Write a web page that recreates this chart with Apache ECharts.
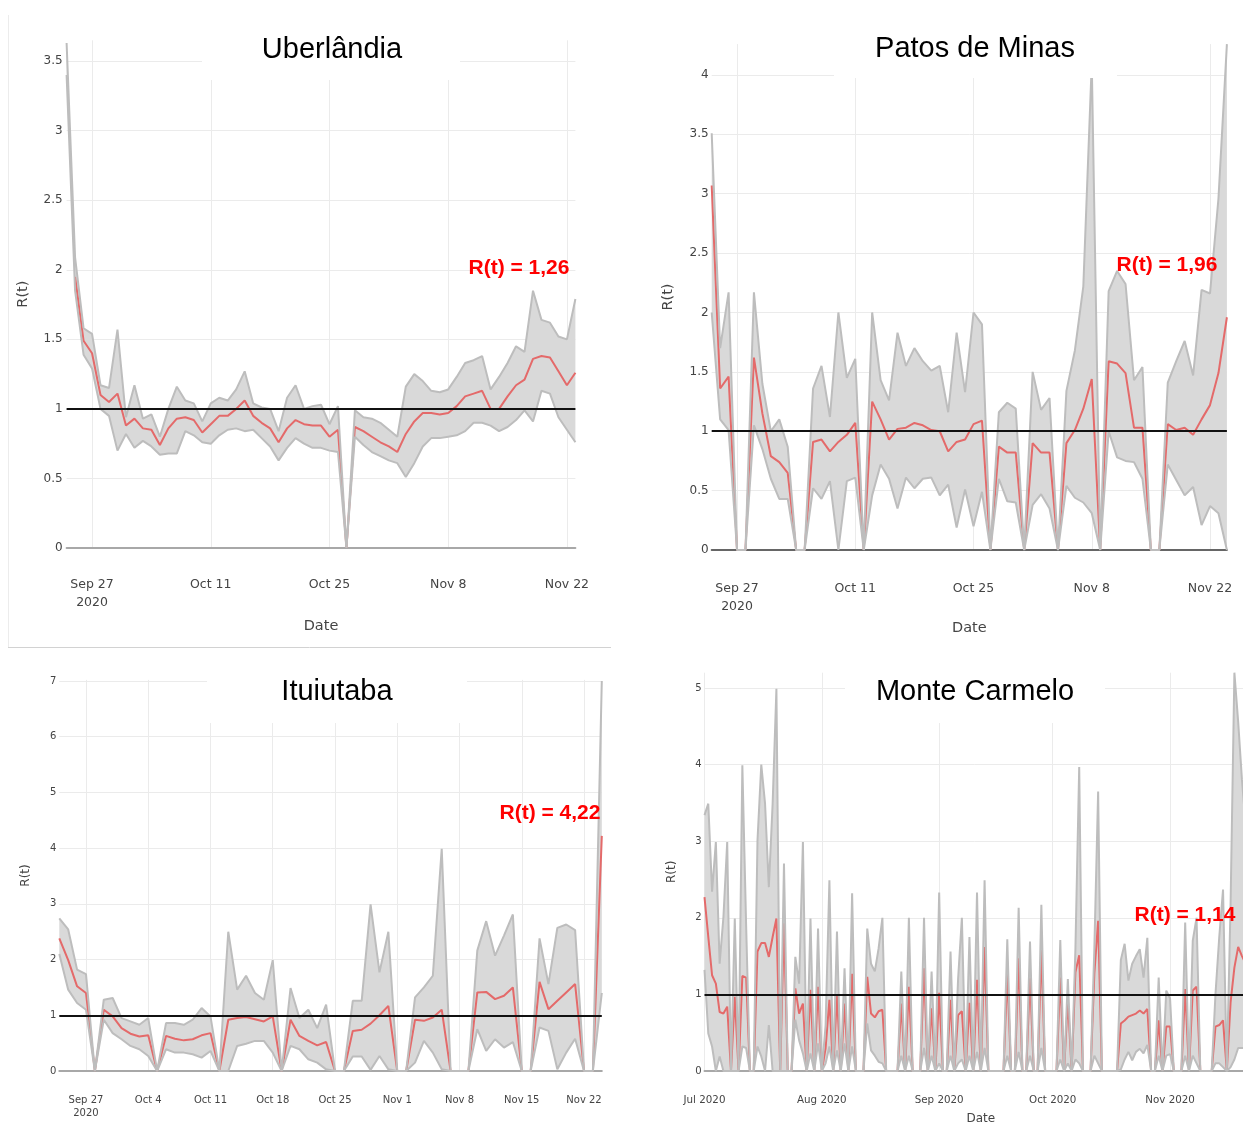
<!DOCTYPE html>
<html>
<head>
<meta charset="utf-8">
<script src="https://cdn.jsdelivr.net/npm/echarts@6/dist/echarts.min.js"></script>
<style>
  html, body { margin: 0; padding: 0; background: #fff; }
  #chart { width: 1243px; height: 1124px; }
</style>
</head>
<body>
<div id="chart"></div>
<script>
// ---------- Uberlândia: daily R(t), 24 Sep – 23 Nov 2020 ----------
const uberStart = '2020-09-24';
const uberMean = [null, 1.95, 1.49, 1.40, 1.10, 1.05, 1.11, 0.88, 0.93, 0.86, 0.85, 0.74, 0.86, 0.93, 0.94, 0.92,
  0.83, 0.89, 0.95, 0.95, 1.00, 1.06, 0.95, 0.90, 0.86, 0.76, 0.86, 0.92, 0.89, 0.88, 0.88, 0.80, 0.85, 0,
  0.87, 0.84, 0.80, 0.76, 0.73, 0.69, 0.82, 0.91, 0.97, 0.97, 0.96, 0.97, 1.02, 1.09, 1.11, 1.13, 1.00,
  1.00, 1.09, 1.17, 1.21, 1.36, 1.38, 1.37, 1.27, 1.17, 1.26];
const uberLower = [3.4, 1.85, 1.39, 1.29, 1.00, 0.95, 0.70, 0.82, 0.72, 0.77, 0.73, 0.67, 0.68, 0.68, 0.84, 0.81,
  0.76, 0.75, 0.81, 0.85, 0.86, 0.84, 0.85, 0.79, 0.73, 0.63, 0.72, 0.79, 0.75, 0.72, 0.72, 0.70, 0.69, 0,
  0.80, 0.74, 0.69, 0.66, 0.63, 0.61, 0.51, 0.61, 0.73, 0.79, 0.79, 0.80, 0.81, 0.84, 0.90, 0.90, 0.88,
  0.84, 0.87, 0.92, 0.99, 0.91, 1.13, 1.11, 0.94, 0.85, 0.76];
const uberUpper = [3.63, 2.09, 1.58, 1.54, 1.17, 1.15, 1.57, 0.94, 1.17, 0.93, 0.96, 0.80, 1.00, 1.16, 1.06, 1.04,
  0.91, 1.04, 1.08, 1.06, 1.14, 1.27, 1.04, 1.01, 1.00, 0.84, 1.08, 1.17, 1.00, 1.02, 1.03, 0.89, 1.02, 0,
  0.99, 0.94, 0.93, 0.90, 0.85, 0.80, 1.16, 1.25, 1.20, 1.13, 1.12, 1.14, 1.23, 1.33, 1.35, 1.38, 1.14,
  1.23, 1.33, 1.45, 1.41, 1.85, 1.64, 1.62, 1.52, 1.50, 1.79];
const uberXTicks = ['2020-09-27', '2020-10-11', '2020-10-25', '2020-11-08', '2020-11-22'];
const uberYTicks = [0, 0.5, 1, 1.5, 2, 2.5, 3, 3.5];

// ---------- Patos de Minas: daily R(t), 24 Sep – 24 Nov 2020 ----------
const patosStart = '2020-09-24';
const patosMean = [3.07, 1.36, 1.46, 0, 0, 1.62, 1.15, 0.79, 0.74, 0.65, 0, 0, 0.91, 0.93, 0.83, 0.91,
  0.97, 1.07, 0, 1.25, 1.10, 0.93, 1.02, 1.03, 1.07, 1.05, 1.01, 1.00, 0.83, 0.91, 0.93, 1.06, 1.09, 0,
  0.87, 0.82, 0.82, 0, 0.90, 0.82, 0.82, 0, 0.90, 1.01, 1.19, 1.44, 0, 1.59, 1.57, 1.49, 1.03, 1.03,
  0, 0, 1.06, 1.01, 1.03, 0.97, 1.10, 1.22, 1.49, 1.96];
const patosLower = [2.0, 1.10, 1.01, 0, 0, 1.05, 0.85, 0.60, 0.43, 0.43, 0, 0, 0.52, 0.43, 0.58, 0,
  0.58, 0.61, 0, 0.46, 0.72, 0.60, 0.35, 0.61, 0.52, 0.60, 0.61, 0.46, 0.55, 0.19, 0.51, 0.20, 0.49, 0,
  0.60, 0.41, 0.40, 0, 0.38, 0.47, 0.35, 0, 0.54, 0.44, 0.40, 0.31, 0, 1.00, 0.78, 0.75, 0.74, 0.60,
  0, 0, 0.72, 0.59, 0.46, 0.53, 0.21, 0.37, 0.31, 0];
const patosUpper = [3.51, 1.70, 2.17, 0, 0, 2.17, 1.40, 1.00, 1.10, 0.87, 0, 0, 1.36, 1.55, 1.12, 2.00,
  1.45, 1.61, 0, 2.00, 1.43, 1.26, 1.83, 1.55, 1.70, 1.59, 1.51, 1.55, 1.16, 1.83, 1.33, 2.00, 1.90, 0,
  1.16, 1.24, 1.19, 0, 1.50, 1.18, 1.28, 0, 1.34, 1.68, 2.22, 4.10, 0, 2.18, 2.35, 2.24, 1.43, 1.54,
  0, 0, 1.41, 1.59, 1.76, 1.47, 2.19, 2.16, 2.96, 4.26];
const patosXTicks = ['2020-09-27', '2020-10-11', '2020-10-25', '2020-11-08', '2020-11-22'];
const patosYTicks = [0, 0.5, 1, 1.5, 2, 2.5, 3, 3.5, 4];

// ---------- Ituiutaba: daily R(t), 24 Sep – 24 Nov 2020 ----------
const ituiStart = '2020-09-24';
const ituiMean = [2.38, 1.99, 1.52, 1.40, 0, 1.10, 0.98, 0.77, 0.67, 0.62, 0.64, 0, 0.63, 0.58, 0.55, 0.57,
  0.64, 0.68, 0, 0.92, 0.95, 0.97, 0.93, 0.89, 0.98, 0, 0.92, 0.63, 0.54, 0.46, 0.52, 0, 0, 0.72,
  0.74, 0.85, 1.00, 1.17, 0, 0, 0.92, 0.90, 0.96, 1.10, 0, 0, 0, 1.41, 1.42, 1.29, 1.35, 1.50,
  0, 0, 1.60, 1.11, 1.26, 1.41, 1.56, 0, 0, 4.22];
const ituiLower = [2.10, 1.46, 1.22, 1.10, 0, 0.92, 0.68, 0.57, 0.45, 0.39, 0.27, 0, 0.39, 0.33, 0.33, 0.30,
  0.24, 0.36, 0, 0, 0.45, 0.49, 0.54, 0.54, 0.33, 0, 0.45, 0.39, 0.21, 0.15, 0.03, 0, 0, 0.26,
  0.26, 0.02, 0.27, 0.03, 0, 0, 0.15, 0.54, 0.33, 0.03, 0, 0, 0, 0.75, 0.36, 0.57, 0.42, 0.52,
  0, 0, 0.78, 0.72, 0.03, 0.33, 0.58, 0, 0, 1.40];
const ituiUpper = [2.74, 2.54, 1.82, 1.74, 0, 1.28, 1.31, 0.95, 0.89, 0.83, 0.95, 0, 0.86, 0.86, 0.83, 0.92,
  1.13, 0.98, 0, 2.50, 1.46, 1.71, 1.40, 1.28, 1.99, 0, 1.49, 0.95, 1.10, 0.77, 1.19, 0, 0, 1.26,
  1.26, 2.99, 1.77, 2.50, 0, 0, 1.32, 1.50, 1.71, 3.99, 0, 0, 0, 2.16, 2.69, 2.07, 2.43, 2.81,
  0, 0, 2.38, 1.56, 2.57, 2.63, 2.53, 0, 0, 7.00];
const ituiXTicks = ['2020-09-27', '2020-10-04', '2020-10-11', '2020-10-18', '2020-10-25',
  '2020-11-01', '2020-11-08', '2020-11-15', '2020-11-22'];
const ituiYTicks = [0, 1, 2, 3, 4, 5, 6, 7];

// ---------- Monte Carmelo: daily R(t), 1 Jul – 24 Nov 2020 ----------
const monteStart = '2020-07-01';
const monteMean = [
  2.27, 1.75, 1.25, 1.14, 0.77, 0.75, 0.84, 0, 0.97, 0, 1.24, 1.22, 0, 0, 1.56, 1.67, 1.67, 1.49, 1.75, 1.99,
  0, 1.93, 0, 0, 1.08, 0.75, 0.88, 0, 1.06, 0, 1.10, 0, 0.30, 0.93, 0, 0.99, 0, 0.88, 0, 1.27,
  0, 0, 0, 1.23, 0.75, 0.70, 0.78, 0.80, 0, 0, 0, 0, 0.88, 0, 1.10, 0, 0, 0, 1.34, 0,
  0.82, 0, 1.02, 0, 0, 0.93, 0, 0.73, 0.78, 0, 0.89, 0, 1.19, 0, 1.62, 0, 0, 0, 0, 0,
  1.27, 0, 0, 1.47, 0, 0, 1.21, 0, 0, 1.58, 0, 0, 0, 0, 1.22, 0, 0.94, 0, 1.29, 1.51,
  0, 0, 0, 1.27, 1.96, 0, 0, 0, 0, 0, 0.62, 0.66, 0.71, 0.73, 0.75, 0.79, 0.75, 0.81, 0, 0,
  0.66, 0, 0.58, 0.58, 0, 0, 0, 1.07, 0, 1.05, 1.10, 0, 0, 0, 0, 0.58, 0.60, 0.66, 0, 0.90,
  1.35, 1.62, 1.50, 1.40, 1.30, 1.20, 1.14];
const monteLower = [
  1.32, 0.49, 0.32, 0, 0.19, 0, 0, 0, 0, 0, 0.32, 0.30, 0, 0, 0.32, 0.19, 0, 0.60, 0, 0,
  0, 0, 0, 0, 0.67, 0.40, 0.23, 0, 0.23, 0, 0.36, 0, 0.10, 0.32, 0, 0.27, 0, 0.36, 0, 0.32,
  0, 0, 0, 0.62, 0.27, 0.20, 0.12, 0.10, 0, 0, 0, 0, 0.20, 0, 0.20, 0, 0, 0, 0.30, 0,
  0.20, 0, 0.10, 0, 0, 0.20, 0, 0.10, 0.15, 0, 0.20, 0, 0.25, 0, 0.30, 0, 0, 0, 0, 0,
  0.20, 0, 0, 0.25, 0, 0, 0.20, 0, 0, 0.30, 0, 0, 0, 0, 0.15, 0, 0.10, 0, 0.15, 0.10,
  0, 0, 0, 0.20, 0.10, 0, 0, 0, 0, 0, 0.02, 0.15, 0.25, 0.14, 0.25, 0.29, 0.23, 0.34, 0, 0,
  0.20, 0, 0.20, 0.22, 0, 0, 0, 0.20, 0, 0.20, 0.10, 0, 0, 0, 0, 0.10, 0.10, 0.05, 0, 0.05,
  0.15, 0.30, 0.30, 0.30, 0.30, 0.25, 0.25];
const monteUpper = [
  3.34, 3.49, 2.34, 2.99, 1.40, 2.01, 2.99, 0, 1.99, 0, 3.99, 1.90, 0, 0, 3.01, 4.00, 3.49, 2.40, 3.49, 4.99,
  0, 2.71, 0, 0, 1.49, 1.14, 2.99, 0, 1.99, 0, 1.86, 0, 0.60, 2.49, 0, 1.82, 0, 1.34, 0, 2.32,
  0, 0, 0, 1.86, 1.40, 1.30, 1.60, 2.00, 0, 0, 0, 0, 1.30, 0, 2.00, 0, 0, 0, 2.00, 0,
  1.30, 0, 2.33, 0, 0, 1.56, 0, 1.20, 2.00, 0, 1.75, 0, 2.33, 0, 2.49, 0, 0, 0, 0, 0,
  1.72, 0, 0, 2.13, 0, 0, 1.69, 0, 0, 2.17, 0, 0, 0, 0, 1.71, 0, 1.20, 0, 1.60, 3.97,
  0, 0, 0, 1.60, 3.65, 0, 0, 0, 0, 0, 1.45, 1.66, 1.18, 1.40, 1.50, 1.59, 1.22, 1.74, 0, 0,
  1.22, 0, 1.05, 0.95, 0, 0, 0, 1.94, 0, 1.70, 2.00, 0, 0, 0, 0, 1.00, 1.75, 2.37, 0, 2.20,
  5.20, 4.56, 3.80, 3.20, 2.80, 2.50, 2.30];
const monteXTicks = ['2020-07-01', '2020-08-01', '2020-09-01', '2020-10-01', '2020-11-01'];
const monteYTicks = [0, 1, 2, 3, 4, 5];

const MONTHS = ['Jan', 'Feb', 'Mar', 'Apr', 'May', 'Jun', 'Jul', 'Aug', 'Sep', 'Oct', 'Nov', 'Dec'];

function toStamp(s) {
  const p = s.split('-').map(Number);
  return new Date(p[0], p[1] - 1, p[2]).getTime();
}
function dayStamps(start, n) {
  const p = start.split('-').map(Number);
  const out = [];
  for (let i = 0; i < n; i++) out.push(new Date(p[0], p[1] - 1, p[2] + i).getTime());
  return out;
}

// Panel layout and styling
const panels = [
  { title: 'Uberlândia', note: 'R(t) = 1,26', start: uberStart, mean: uberMean, lower: uberLower, upper: uberUpper,
    xTicks: uberXTicks, yTicks: uberYTicks, yMax: 3.65, dayFmt: true,
    grid: { left: 66.6, top: 40.3, width: 508.8, height: 507.7 },
    titlePos: [332, 50], box: [202, 18, 258, 62], notePos: [519, 268],
    tickFont: 12.5, yFont: 12, nameFont: 14.5, labelMargin: 28, lineH: 18, yGap: 36, xGap: 71, yMargin: 4,
    zeroColor: '#a8a8a8' },
  { title: 'Patos de Minas', note: 'R(t) = 1,96', start: patosStart, mean: patosMean, lower: patosLower, upper: patosUpper,
    xTicks: patosXTicks, yTicks: patosYTicks, yMax: 4.26, dayFmt: true,
    grid: { left: 711.7, top: 44.1, width: 515.2, height: 505.9 },
    titlePos: [975, 49], box: [834, 16, 283, 62], notePos: [1167, 265],
    tickFont: 12.5, yFont: 12, nameFont: 14.5, labelMargin: 30, lineH: 18, yGap: 36, xGap: 71, yMargin: 3,
    zeroColor: '#666666' },
  { title: 'Ituiutaba', note: 'R(t) = 4,22', start: ituiStart, mean: ituiMean, lower: ituiLower, upper: ituiUpper,
    xTicks: ituiXTicks, yTicks: ituiYTicks, yMax: 7.02, dayFmt: true,
    grid: { left: 59.3, top: 679.9, width: 542.5, height: 391.1 },
    titlePos: [337, 692], box: [207, 661, 260, 62], notePos: [550, 813],
    tickFont: 10, yFont: 10, nameFont: 12, labelMargin: 23, lineH: 13, yGap: 27, xGap: 58, yMargin: 3,
    zeroColor: '#a8a8a8' },
  { title: 'Monte Carmelo', note: 'R(t) = 1,14', start: monteStart, mean: monteMean, lower: monteLower, upper: monteUpper,
    xTicks: monteXTicks, yTicks: monteYTicks, yMax: 5.2, dayFmt: false,
    grid: { left: 704.5, top: 672.7, width: 552.6, height: 398.3 },
    titlePos: [975, 692], box: [845, 661, 260, 62], notePos: [1185, 915],
    tickFont: 10.3, yFont: 10, nameFont: 12, labelMargin: 23, lineH: 13, yGap: 27, xGap: 42, yMargin: 3,
    zeroColor: '#a8a8a8' }
];

const TICK_FONT = '"DejaVu Sans", Verdana, sans-serif';
const TITLE_FONT = '"Liberation Sans", Arial, sans-serif';

const option = {
  animation: false,
  backgroundColor: '#ffffff',
  grid: [], xAxis: [], yAxis: [], series: [], graphic: []
};

panels.forEach((p, k) => {
  const t = dayStamps(p.start, p.mean.length);
  const xTickStamps = p.xTicks.map(toStamp);
  const firstTick = xTickStamps[0];

  // grids are placed exactly; labels may sit near or past the canvas edge
  option.grid.push(Object.assign({ containLabel: false, outerBoundsMode: 'none' }, p.grid));

  // dates are plotted as millisecond values on a linear axis
  option.xAxis.push({
    gridIndex: k, type: 'value', min: t[0], max: t[t.length - 1], scale: true,
    axisLine: { show: true, onZero: false, lineStyle: { color: p.zeroColor, width: 2 } },
    axisTick: { show: false, customValues: xTickStamps },
    axisLabel: {
      customValues: xTickStamps, color: '#444', fontFamily: TICK_FONT, fontSize: p.tickFont,
      margin: p.labelMargin, lineHeight: p.lineH, hideOverlap: false,
      formatter: function (v) {
        const d = new Date(v);
        if (!p.dayFmt) return MONTHS[d.getMonth()] + ' ' + d.getFullYear();
        const s = MONTHS[d.getMonth()] + ' ' + d.getDate();
        return Math.abs(v - firstTick) < 3600000 ? s + '\n' + d.getFullYear() : s;
      }
    },
    splitLine: { show: true, lineStyle: { color: '#ebebeb', width: 1 } },
    name: 'Date', nameLocation: 'middle', nameGap: p.xGap,
    nameTextStyle: { color: '#444', fontFamily: TICK_FONT, fontSize: p.nameFont }
  });

  option.yAxis.push({
    gridIndex: k, type: 'value', min: 0, max: p.yMax,
    axisLine: { show: false },
    axisTick: { show: false, customValues: p.yTicks },
    axisLabel: { customValues: p.yTicks, color: '#444', fontFamily: TICK_FONT, fontSize: p.yFont, margin: p.yMargin },
    splitLine: { show: true, lineStyle: { color: '#ebebeb', width: 1 } },
    name: 'R(t)', nameLocation: 'middle', nameRotate: 90, nameGap: p.yGap,
    nameTextStyle: { color: '#444', fontFamily: TICK_FONT, fontSize: p.nameFont }
  });

  const base = { type: 'line', xAxisIndex: k, yAxisIndex: k, symbol: 'none', silent: true,
    emphasis: { disabled: true }, animation: false };

  // credible-interval band: one polygon through the upper bounds and back along the lower bounds
  option.series.push({
    type: 'custom', xAxisIndex: k, yAxisIndex: k, silent: true, animation: false,
    data: t.map((x, i) => [x, p.lower[i], p.upper[i]]),
    encode: { x: 0, y: [1, 2] },
    renderItem: function (params, api) {
      if (params.dataIndex !== 0) return null;
      const top = t.map((x, i) => api.coord([x, p.upper[i]]));
      const bottom = t.map((x, i) => api.coord([x, p.lower[i]])).reverse();
      return {
        type: 'polygon',
        shape: { points: top.concat(bottom) },
        style: { fill: '#d9d9d9' }
      };
    }
  });
  // mean R(t)
  option.series.push(Object.assign({}, base, {
    data: t.map((x, i) => [x, p.mean[i]]),
    lineStyle: { color: '#e46a6a', width: 2 }
  }));
  // band edges
  option.series.push(Object.assign({}, base, {
    data: t.map((x, i) => [x, p.upper[i]]),
    lineStyle: { color: '#bdbdbd', width: 2 }
  }));
  option.series.push(Object.assign({}, base, {
    data: t.map((x, i) => [x, p.lower[i]]),
    lineStyle: { color: '#bdbdbd', width: 2 },
    markLine: {
      silent: true, symbol: 'none', label: { show: false }, animation: false,
      lineStyle: { color: '#111', width: 2, type: 'solid' },
      emphasis: { disabled: true },
      data: [{ yAxis: 1 }]
    }
  }));

  // title plate and text
  option.graphic.push({
    type: 'rect', z: 20, silent: true,
    shape: { x: p.box[0], y: p.box[1], width: p.box[2], height: p.box[3] },
    style: { fill: '#ffffff' }
  });
  option.graphic.push({
    type: 'text', z: 30, silent: true, x: p.titlePos[0], y: p.titlePos[1],
    style: { text: p.title, fill: '#000', font: '29px ' + TITLE_FONT, align: 'center', verticalAlign: 'middle' }
  });
  option.graphic.push({
    type: 'text', z: 30, silent: true, x: p.notePos[0], y: p.notePos[1],
    style: { text: p.note, fill: '#ff0000', font: 'bold 21px ' + TITLE_FONT, align: 'center', verticalAlign: 'middle' }
  });
});

// thin separators between the four screenshots
option.graphic.push({
  type: 'line', z: 5, silent: true,
  shape: { x1: 8, y1: 647.5, x2: 611, y2: 647.5 },
  style: { stroke: '#d2d2d2', lineWidth: 1 }
});
option.graphic.push({
  type: 'line', z: 5, silent: true,
  shape: { x1: 8.5, y1: 15, x2: 8.5, y2: 647 },
  style: { stroke: '#ececec', lineWidth: 1 }
});

const chart = echarts.init(document.getElementById('chart'), null, { renderer: 'canvas' });
chart.setOption(option);
</script>
</body>
</html>
